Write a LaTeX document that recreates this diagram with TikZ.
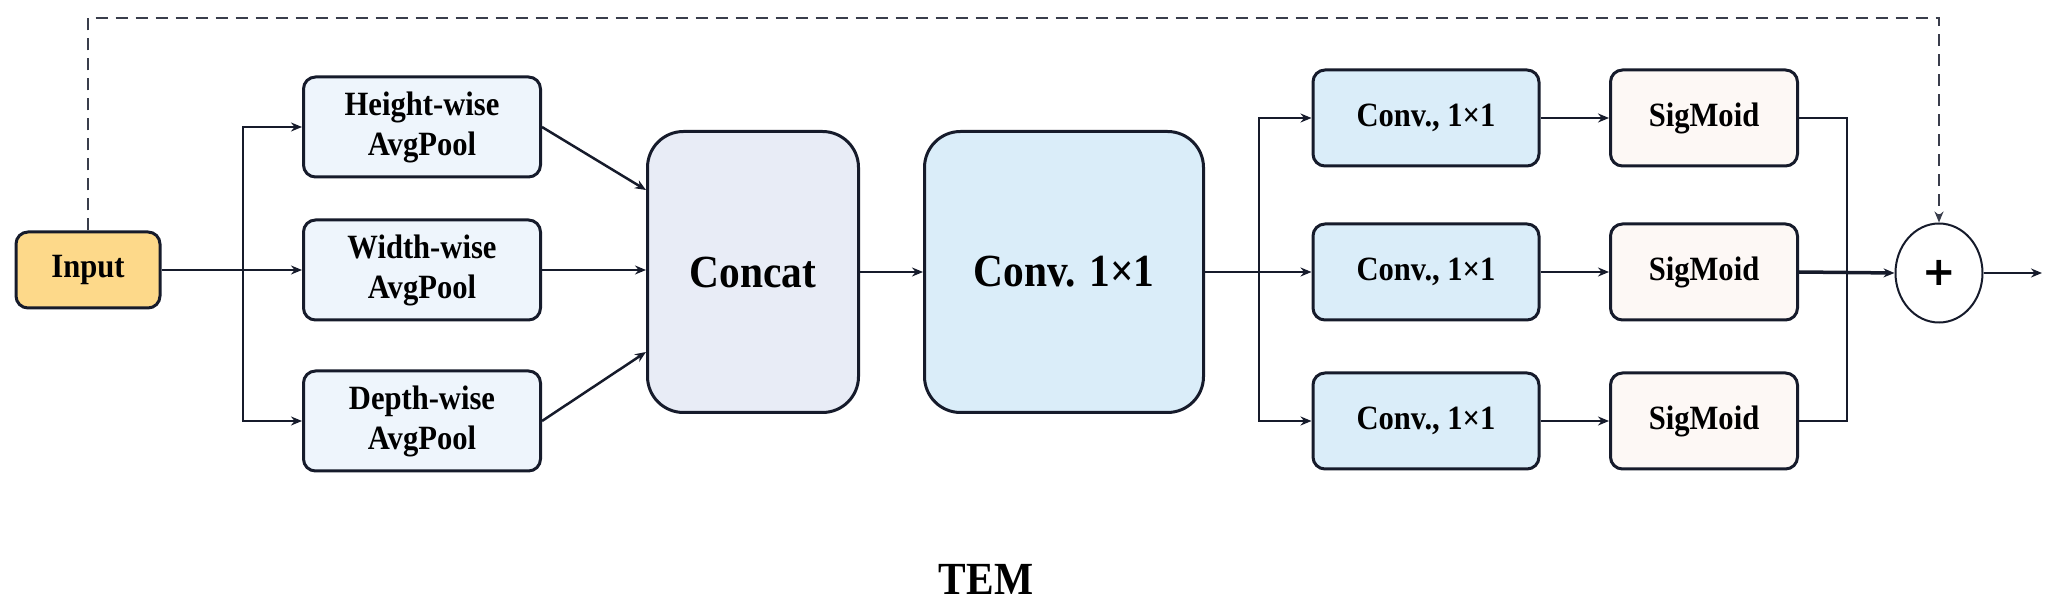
\documentclass[tikz,border=0pt]{standalone}
\usepackage{fontspec}
\setmainfont{Liberation Serif}[FakeStretch=0.9]
\newfontfamily\plusfont{DejaVu Sans}
\usetikzlibrary{arrows.meta,shapes.geometric}
\definecolor{linecol}{HTML}{161B2B}
\definecolor{incol}{HTML}{FDD98A}
\definecolor{poolcol}{HTML}{EEF5FC}
\definecolor{catcol}{HTML}{E8ECF6}
\definecolor{convcol}{HTML}{DAEDF9}
\definecolor{sigcol}{HTML}{FDF8F5}
\begin{document}
\begin{tikzpicture}[x=1pt,y=-1pt,>={Stealth[length=11pt,width=9pt]},
  line/.style={draw=linecol,line width=2.5pt},
  box/.style={draw=linecol,line width=3pt,rounded corners=12pt,align=center,
    inner sep=0pt,font=\fontsize{34}{40}\selectfont\bfseries},
  bigbox/.style={box,rounded corners=36pt,minimum width=211pt,minimum height=281pt,
    font=\fontsize{46}{50}\selectfont\bfseries},
  pool/.style={box,fill=poolcol,minimum width=237pt,minimum height=100pt},
  conv/.style={box,fill=convcol,minimum width=226pt,minimum height=96pt},
  sig/.style={box,fill=sigcol,minimum width=187pt,minimum height=96pt}]
   \useasboundingbox (0,0) rectangle (2057,609);

   % 入力と分岐
   \node[box,fill=incol,minimum width=144pt,minimum height=76pt] (in) at (88,270) {Input};
   \node[pool] (hpool) at (422,127) {Height-wise\\AvgPool};
   \node[pool] (wpool) at (422,270) {Width-wise\\AvgPool};
   \node[pool] (dpool) at (422,421) {Depth-wise\\AvgPool};
   \coordinate (sp1) at (243,270);
   \draw[line,->] (in.east) -- (wpool.west);
   \draw[line,->] (sp1) |- (hpool.west);
   \draw[line,->] (sp1) |- (dpool.west);

   % 結合と畳み込み
   \node[bigbox,fill=catcol] (cat) at (753,272) {Concat};
   \node[bigbox,fill=convcol,minimum width=279pt] (conv) at (1064,272) {Conv. 1×1};
   \draw[line,->] (hpool.east) -- ([yshift=82pt]cat.west);
   \draw[line,->] (wpool.east) -- (wpool.east -| cat.west);
   \draw[line,->] (dpool.east) -- ([yshift=-80pt]cat.west);
   \draw[line,->] (cat) -- (conv);

   % 三つの枝
   \node[conv] (conv1) at (1426,118) {Conv., 1×1};
   \node[conv] (conv2) at (1426,272) {Conv., 1×1};
   \node[conv] (conv3) at (1426,421) {Conv., 1×1};
   \node[sig] (sig1) at (1704,118) {SigMoid};
   \node[sig] (sig2) at (1704,272) {SigMoid};
   \node[sig] (sig3) at (1704,421) {SigMoid};
   \coordinate (sp2) at (1259,272);
   \draw[line,->] (conv) -- (conv2);
   \draw[line,->] (sp2) |- (conv1.west);
   \draw[line,->] (sp2) |- (conv3.west);
   \foreach \i in {1,2,3}
     \draw[line,->] (conv\i) -- (sig\i);

   % 加算
   \node[ellipse,draw=linecol,line width=2pt,fill=white,minimum width=87pt,minimum height=99pt,
     inner sep=0pt,font=\plusfont\fontsize{40}{40}\selectfont\bfseries] (add) at (1939,273) {+};
   \coordinate (mrg) at (1847,272);
   \draw[line] (sig1.east) -| (mrg);
   \draw[line] (sig3.east) -| (mrg);
   \draw[line,line width=3.5pt,->] (sig2.east) -- (add.west);
   \coordinate (out) at (2042,273);
   \draw[line,->] (add.east) -- (out);

   % スキップ接続
   \coordinate (top) at (1000,18);
   \draw[line,dash pattern=on 12pt off 8pt,draw=linecol!85,->] (in.north) |- (top) -| (add.north);

   \node[font=\fontsize{46}{50}\selectfont\bfseries] (cap) at (986,579) {TEM};
\end{tikzpicture}
\end{document}
